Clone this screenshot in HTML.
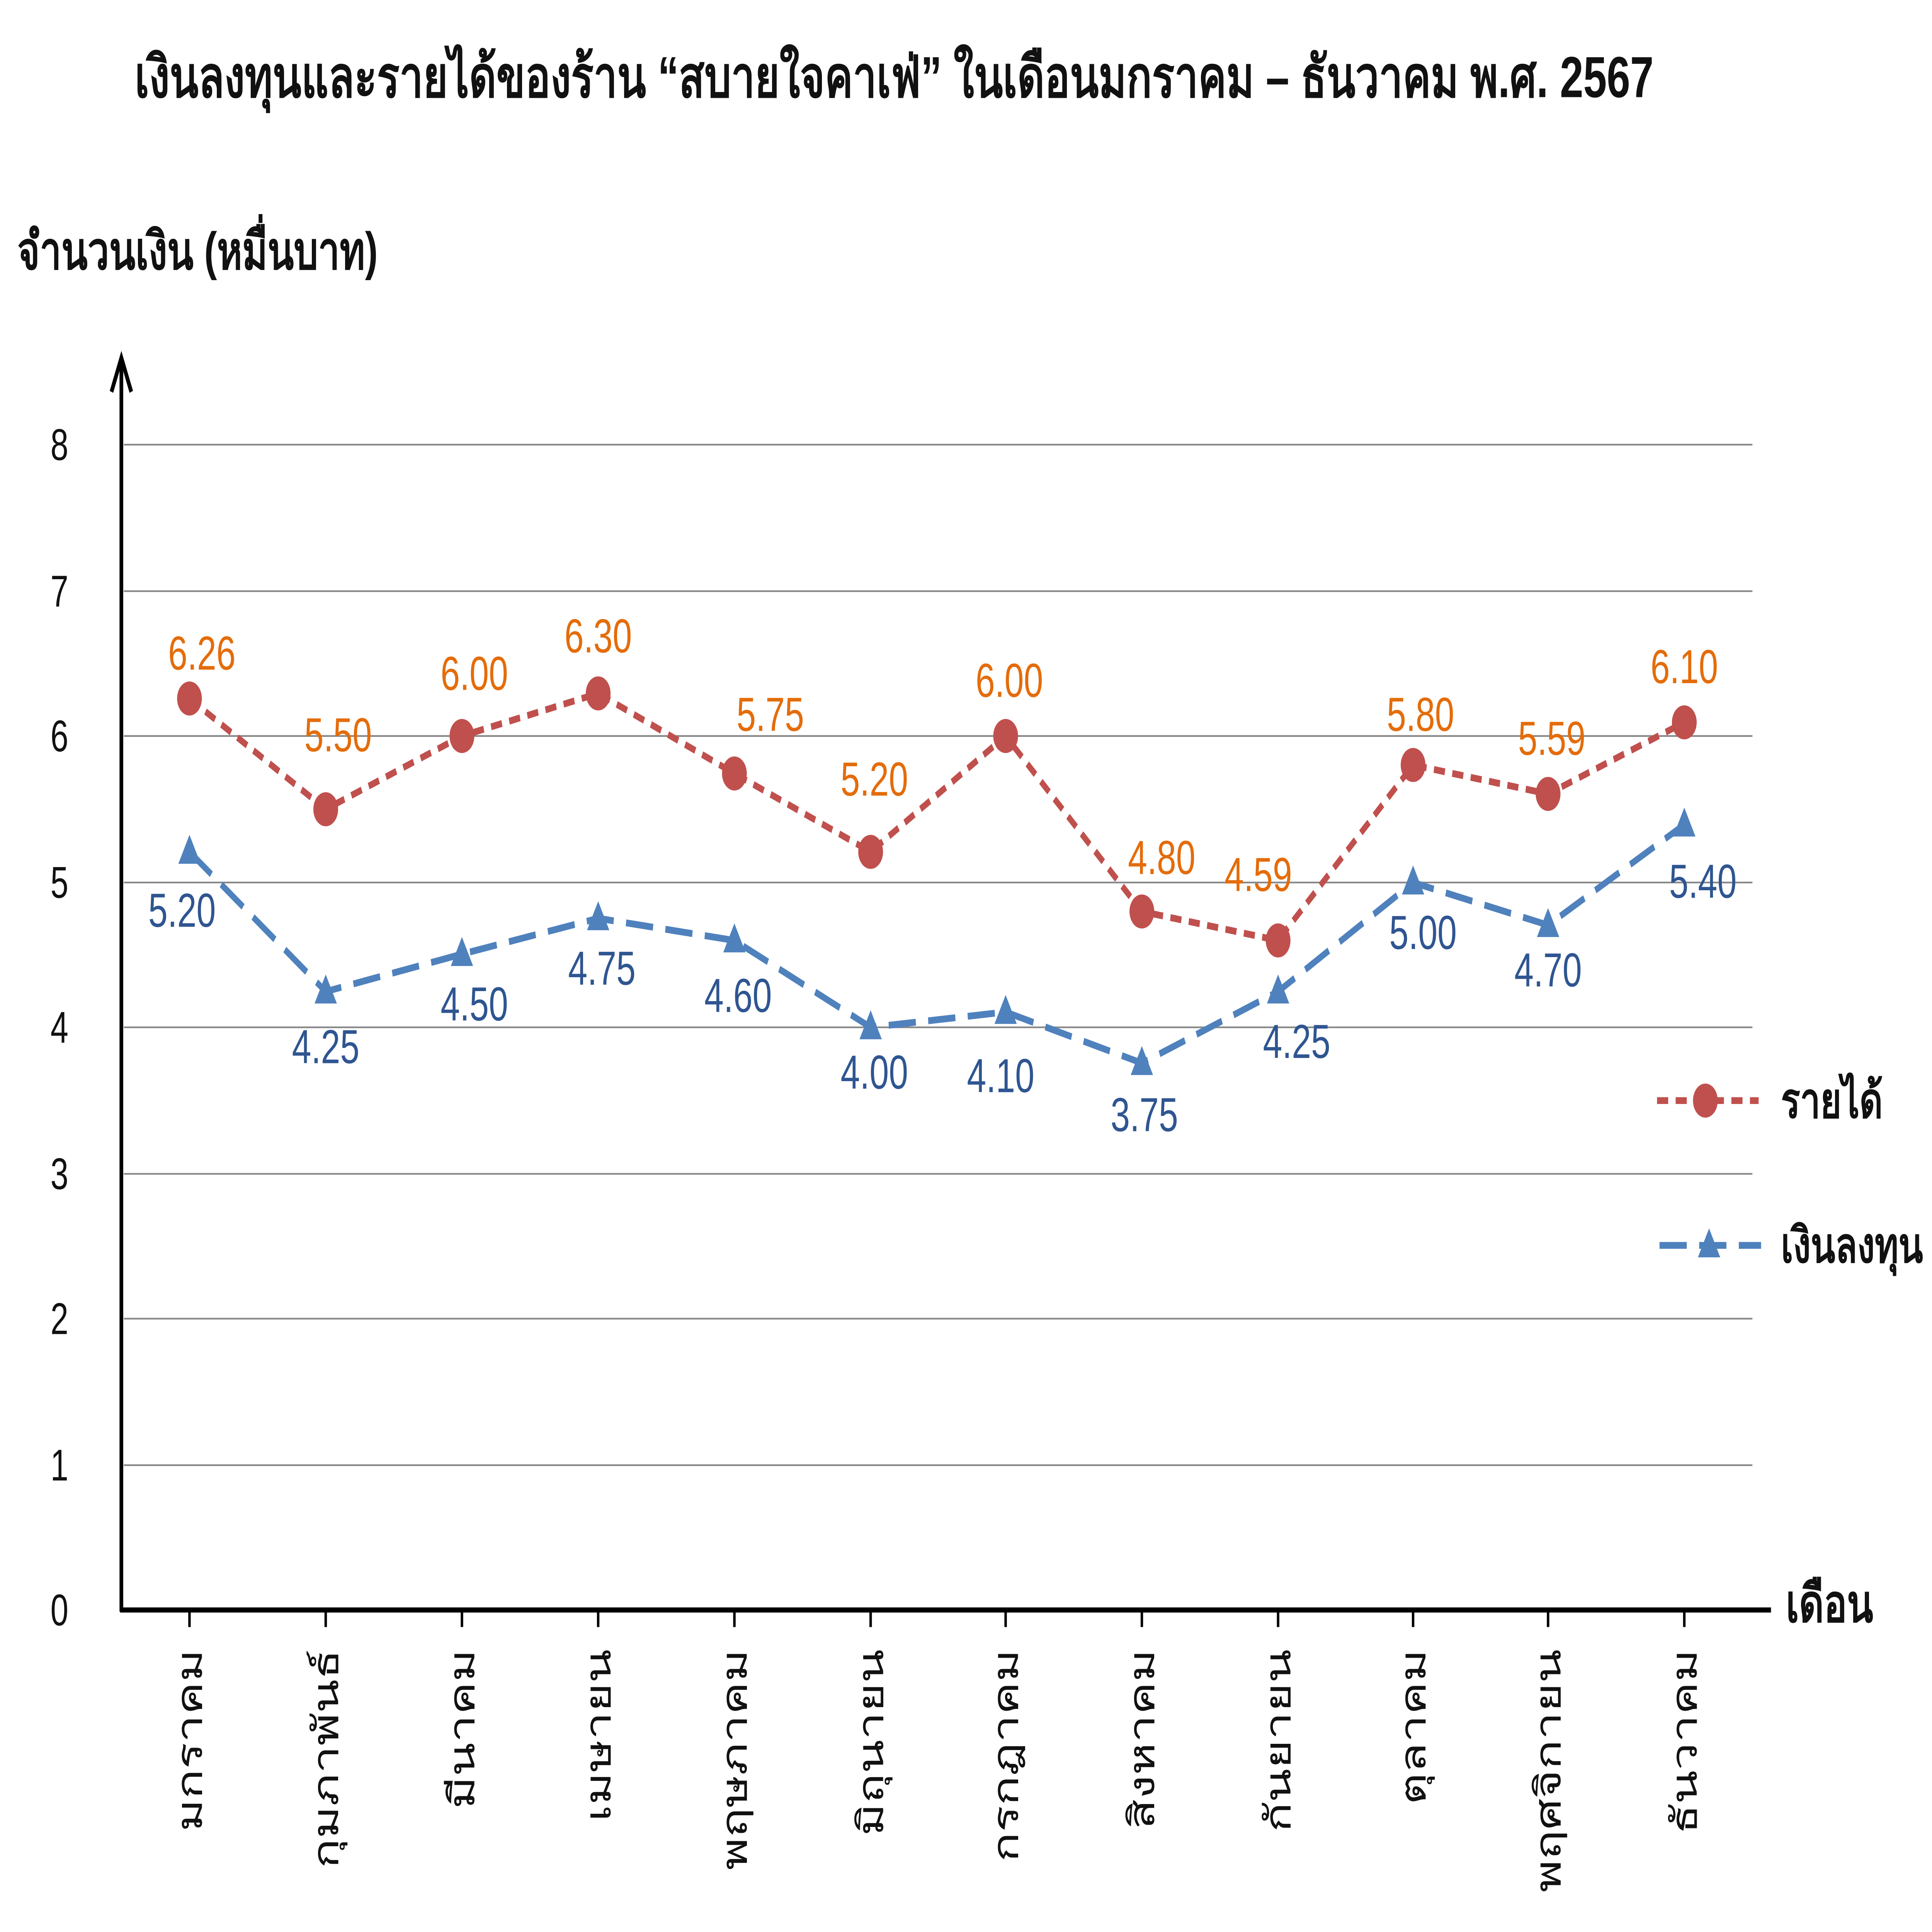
<!DOCTYPE html>
<html><head><meta charset="utf-8"><style>
html,body{margin:0;padding:0;background:#fff;width:100%;height:100%;overflow:hidden;}
svg{display:block;width:100vw;height:100vh;position:absolute;left:0;top:0;}
text{font-family:"Liberation Sans","DejaVu Sans","Noto Sans CJK SC",sans-serif;}
</style></head><body>
<svg viewBox="0 0 1560 1134" preserveAspectRatio="none" xmlns="http://www.w3.org/2000/svg">
<rect width="1560" height="1134" fill="#fff"/>
<text x="722" y="57" font-size="34" font-weight="bold" text-anchor="middle" fill="#111">เงินลงทุนและรายได้ของร้าน “สบายใจคาเฟ่” ในเดือนมกราคม – ธันวาคม พ.ศ. 2567</text>
<text x="14" y="158" font-size="31" font-weight="bold" fill="#111">จำนวนเงิน (หมื่นบาท)</text>
<g stroke="#888" stroke-width="1">
<line x1="100" y1="261" x2="1415" y2="261"/><line x1="100" y1="347" x2="1415" y2="347"/>
<line x1="100" y1="432" x2="1415" y2="432"/><line x1="100" y1="518" x2="1415" y2="518"/>
<line x1="100" y1="603" x2="1415" y2="603"/><line x1="100" y1="689" x2="1415" y2="689"/>
<line x1="100" y1="774" x2="1415" y2="774"/><line x1="100" y1="860" x2="1415" y2="860"/>
</g>
<g stroke="#000" stroke-width="3" fill="none">
<line x1="98" y1="212" x2="98" y2="946"/><polyline points="90,230 98,210 106,230"/>
<line x1="97" y1="945" x2="1430" y2="945"/>
</g>
<g stroke="#000" stroke-width="2">
<line x1="153" y1="945" x2="153" y2="955"/><line x1="263" y1="945" x2="263" y2="955"/><line x1="373" y1="945" x2="373" y2="955"/><line x1="483" y1="945" x2="483" y2="955"/><line x1="593" y1="945" x2="593" y2="955"/><line x1="703" y1="945" x2="703" y2="955"/><line x1="812" y1="945" x2="812" y2="955"/><line x1="922" y1="945" x2="922" y2="955"/><line x1="1032" y1="945" x2="1032" y2="955"/><line x1="1141" y1="945" x2="1141" y2="955"/><line x1="1250" y1="945" x2="1250" y2="955"/><line x1="1360" y1="945" x2="1360" y2="955"/>
</g>
<g font-size="26" text-anchor="middle" fill="#111">
<text x="48" y="270">8</text><text x="48" y="356">7</text><text x="48" y="441">6</text><text x="48" y="527">5</text><text x="48" y="612">4</text><text x="48" y="698">3</text><text x="48" y="783">2</text><text x="48" y="869">1</text><text x="48" y="954">0</text>
</g>
<text x="1442" y="952" font-size="31" font-weight="bold" fill="#111">เดือน</text>
<g font-size="29" fill="#111" text-anchor="end">
<text transform="translate(163,968) rotate(-90)">มกราคม</text>
<text transform="translate(273,968) rotate(-90)">กุมภาพันธ์</text>
<text transform="translate(383,968) rotate(-90)">มีนาคม</text>
<text transform="translate(493,968) rotate(-90)">เมษายน</text>
<text transform="translate(603,968) rotate(-90)">พฤษภาคม</text>
<text transform="translate(713,968) rotate(-90)">มิถุนายน</text>
<text transform="translate(822,968) rotate(-90)">กรกฎาคม</text>
<text transform="translate(932,968) rotate(-90)">สิงหาคม</text>
<text transform="translate(1042,968) rotate(-90)">กันยายน</text>
<text transform="translate(1151,968) rotate(-90)">ตุลาคม</text>
<text transform="translate(1260,968) rotate(-90)">พฤศจิกายน</text>
<text transform="translate(1370,968) rotate(-90)">ธันวาคม</text>
</g>
<polyline fill="none" stroke="#C0504D" stroke-width="4" stroke-dasharray="9,6" points="153,410 263,475 373,432 483,407 593,454 703,500 812,432 922,535 1032,552 1141,449 1250,466 1360,424"/>
<g fill="#C0504D">
<circle cx="153" cy="410" r="10"/><circle cx="263" cy="475" r="10"/><circle cx="373" cy="432" r="10"/><circle cx="483" cy="407" r="10"/><circle cx="593" cy="454" r="10"/><circle cx="703" cy="500" r="10"/><circle cx="812" cy="432" r="10"/><circle cx="922" cy="535" r="10"/><circle cx="1032" cy="552" r="10"/><circle cx="1141" cy="449" r="10"/><circle cx="1250" cy="466" r="10"/><circle cx="1360" cy="424" r="10"/>
</g>
<polyline fill="none" stroke="#4F81BD" stroke-width="4" stroke-dasharray="22,10" points="153,500 263,582 373,560 483,539 593,552 703,603 812,594 922,624 1032,582 1141,518 1250,543 1360,484"/>
<g fill="#4F81BD">
<polygon points="153,490 144,507 162,507"/><polygon points="263,572 254,589 272,589"/><polygon points="373,550 364,567 382,567"/><polygon points="483,529 474,546 492,546"/><polygon points="593,542 584,559 602,559"/><polygon points="703,593 694,610 712,610"/><polygon points="812,584 803,601 821,601"/><polygon points="922,614 913,631 931,631"/><polygon points="1032,572 1023,589 1041,589"/><polygon points="1141,508 1132,525 1150,525"/><polygon points="1250,533 1241,550 1259,550"/><polygon points="1360,474 1351,491 1369,491"/>
</g>
<g font-size="28" fill="#E46C0A" text-anchor="middle">
<text x="163" y="393">6.26</text><text x="273" y="441">5.50</text><text x="383" y="405">6.00</text><text x="483" y="383">6.30</text><text x="622" y="429">5.75</text><text x="706" y="467">5.20</text><text x="815" y="409">6.00</text><text x="938" y="513">4.80</text><text x="1016" y="523">4.59</text><text x="1147" y="429">5.80</text><text x="1253" y="443">5.59</text><text x="1360" y="401">6.10</text>
</g>
<g font-size="28" fill="#2F5591" text-anchor="middle">
<text x="147" y="544">5.20</text><text x="263" y="624">4.25</text><text x="383" y="599">4.50</text><text x="486" y="578">4.75</text><text x="596" y="594">4.60</text><text x="706" y="639">4.00</text><text x="808" y="641">4.10</text><text x="924" y="664">3.75</text><text x="1047" y="621">4.25</text><text x="1149" y="557">5.00</text><text x="1250" y="579">4.70</text><text x="1375" y="527">5.40</text>
</g>
<line x1="1338" y1="646" x2="1420" y2="646" stroke="#C0504D" stroke-width="4" stroke-dasharray="9,6"/>
<circle cx="1377" cy="646" r="10" fill="#C0504D"/>
<text x="1438" y="656" font-size="29" font-weight="bold" fill="#111">รายได้</text>
<line x1="1340" y1="731" x2="1422" y2="731" stroke="#4F81BD" stroke-width="4" stroke-dasharray="22,10"/>
<polygon points="1380,721 1371,738 1389,738" fill="#4F81BD"/>
<text x="1438" y="741" font-size="29" font-weight="bold" fill="#111">เงินลงทุน</text>
</svg>
</body></html>
